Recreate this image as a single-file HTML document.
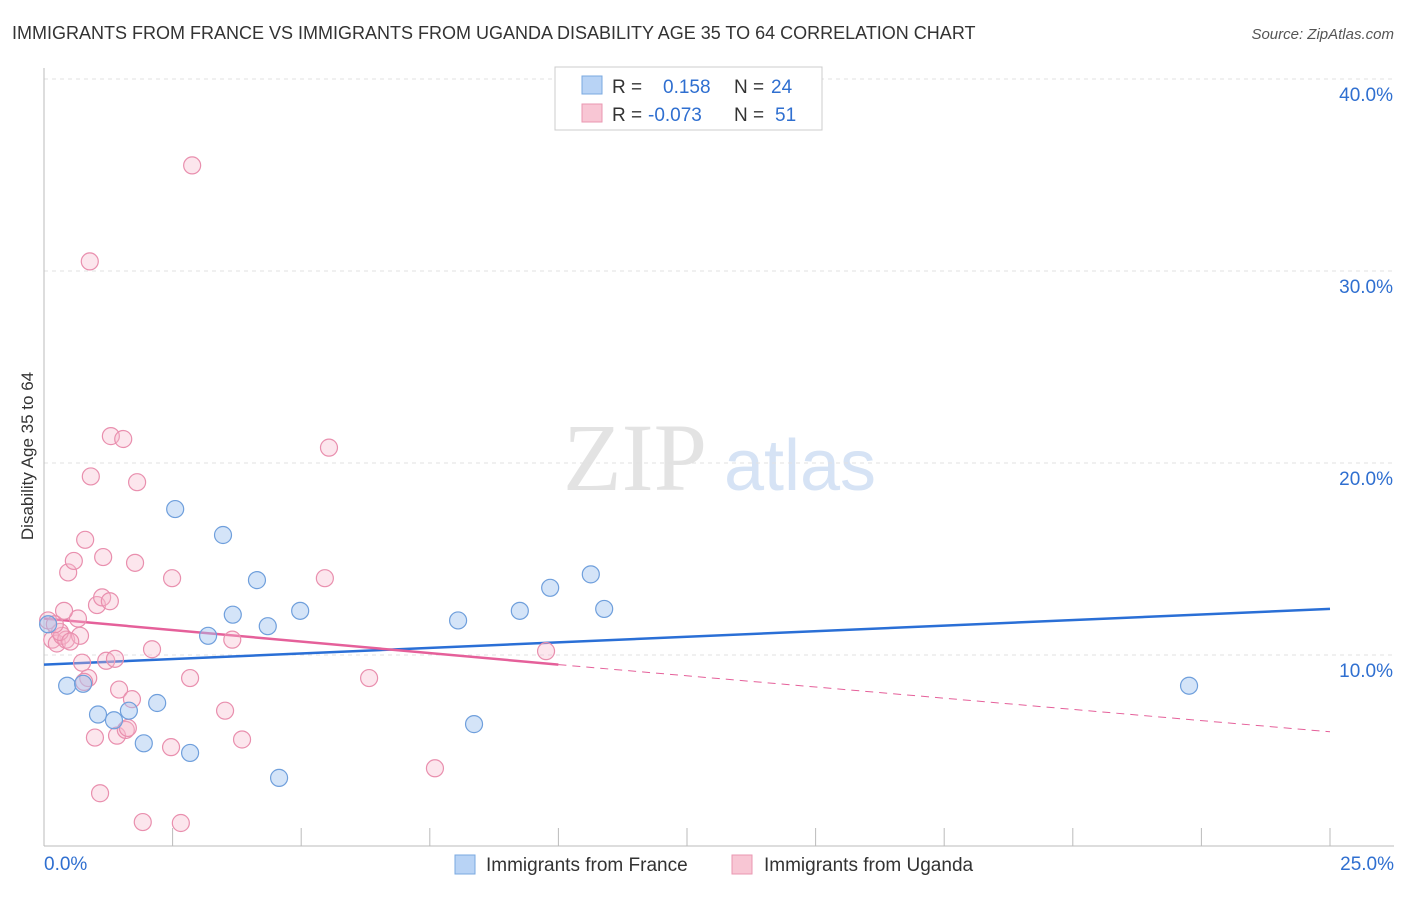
<!DOCTYPE html>
<html><head><meta charset="utf-8"><style>
body{margin:0;background:#fff;font-family:"Liberation Sans",sans-serif;}
</style></head><body>
<svg id="chart" width="1406" height="892" xmlns="http://www.w3.org/2000/svg" font-family="Liberation Sans, sans-serif">
<text x="12" y="39" font-size="18" fill="#333">IMMIGRANTS FROM FRANCE VS IMMIGRANTS FROM UGANDA DISABILITY AGE 35 TO 64 CORRELATION CHART</text>
<text x="1394" y="39" font-size="15" fill="#555" text-anchor="end" font-style="italic">Source: ZipAtlas.com</text>
<g>
<text x="635" y="490" font-size="96" fill="#e3e3e3" text-anchor="middle" font-family="Liberation Serif, serif">ZIP</text>
<text x="800" y="490" font-size="72" fill="#d6e3f5" text-anchor="middle">atlas</text>
</g>
<g id="grid"></g><g id="axes"></g><g id="trend"></g><g id="points"></g>
<text transform="translate(33,456) rotate(-90)" font-size="17" fill="#333" text-anchor="middle">Disability Age 35 to 64</text>
<g>
<rect x="555" y="67" width="267" height="63" fill="#fff" stroke="#ccc"/>
<rect x="582" y="76" width="20" height="18" fill="#b8d3f5" stroke="#7aa8e0"/>
<rect x="582" y="104" width="20" height="18" fill="#f8c6d4" stroke="#ea97b1"/>
<text x="612" y="93" font-size="19" fill="#333">R = </text><text x="663" y="93" font-size="19" fill="#2f6fd0">0.158</text>
<text x="734" y="93" font-size="19" fill="#333">N = </text><text x="771" y="93" font-size="19" fill="#2f6fd0">24</text>
<text x="612" y="121" font-size="19" fill="#333">R = </text><text x="648" y="121" font-size="19" fill="#2f6fd0">-0.073</text>
<text x="734" y="121" font-size="19" fill="#333">N = </text><text x="775" y="121" font-size="19" fill="#2f6fd0">51</text>
</g>
<g>
<rect x="455" y="855" width="20" height="19" fill="#b8d3f5" stroke="#7aa8e0"/>
<text x="486" y="871" font-size="19" fill="#333">Immigrants from France</text>
<rect x="732" y="855" width="20" height="19" fill="#f8c6d4" stroke="#ea97b1"/>
<text x="764" y="871" font-size="19" fill="#333">Immigrants from Uganda</text>
</g>
</svg>
<script>
const yTicks=[10,20,30,40];
const yTickLabels=["10.0%","20.0%","30.0%","40.0%"];
const xTicks=[0,2.5,5,7.5,10,12.5,15,17.5,20,22.5,25];
const franceX=[0.08,0.45,0.76,1.05,1.36,1.65,1.94,2.20,2.55,2.84,3.19,3.48,3.67,4.14,4.35,4.57,4.98,8.05,8.36,9.25,9.84,10.63,10.89,22.26];
const franceY=[11.6,8.4,8.5,6.9,6.6,7.1,5.4,7.5,17.6,4.9,11.0,16.25,12.1,13.9,11.5,3.6,12.3,11.8,6.4,12.3,13.5,14.2,12.4,8.4];
const ugandaX=[0.08,0.16,0.25,0.35,0.43,0.31,0.47,0.58,0.66,0.70,0.74,0.80,0.86,0.91,0.89,0.99,1.03,1.09,1.13,1.15,1.21,1.28,1.30,1.38,1.42,1.46,1.54,1.59,1.63,1.71,1.77,1.81,1.92,2.10,2.47,2.49,2.66,2.84,2.88,3.52,3.66,3.85,5.46,5.54,6.32,7.60,9.76,0.21,0.51,0.39,0.78];
const ugandaY=[11.8,10.8,10.6,11.0,10.8,11.2,14.3,14.9,11.9,11.0,9.6,16.0,8.8,19.3,30.5,5.7,12.6,2.8,13.0,15.1,9.7,12.8,21.4,9.8,5.8,8.2,21.25,6.1,6.2,7.7,14.8,19.0,1.3,10.3,5.2,14.0,1.25,8.8,35.5,7.1,10.8,5.6,14.0,20.8,8.8,4.1,10.2,11.6,10.7,12.3,8.6];
const franceTrend=[9.5,12.4];
const ugandaTrend=[11.9,9.5,6.0];
const ugandaSolidEnd=10;
const NS="http://www.w3.org/2000/svg";
const xs=v=>44+v/25*1286, ys=v=>847-v*19.2;
function mk(tag,attrs,parent){const e=document.createElementNS(NS,tag);for(const k in attrs)e.setAttribute(k,attrs[k]);parent.appendChild(e);return e;}
const grid=document.getElementById('grid'),axes=document.getElementById('axes');
yTicks.forEach((t,i)=>{
 const l=mk('line',{x1:44,x2:1394,y1:ys(t),y2:ys(t),stroke:'#e2e2e2','stroke-dasharray':'4,4'},grid);
 
 
 const tx=mk('text',{x:1393,y:ys(t)+22,'font-size':19,fill:'#2f6fd0','text-anchor':'end'},axes);
 tx.textContent=yTickLabels[i];
 
 
});
const xa=mk('line',{x1:44,x2:1394,y1:846,y2:846,stroke:'#bbb'},axes);


const ya=mk('line',{x1:44,x2:44,y1:68,y2:846,stroke:'#bbb'},axes);


xTicks.forEach(t=>{const l=mk('line',{x1:xs(t),x2:xs(t),y1:828,y2:846,stroke:'#bbb'},axes);
 
 });
[[0,'0.0%','start',44],[25,'25.0%','end',1394]].forEach(a=>{const t=mk('text',{x:a[3],y:870,'font-size':19,fill:'#2f6fd0','text-anchor':a[2]},axes);t.textContent=a[1];
 
 });
const pts=document.getElementById('points');
ugandaX.forEach((x,i)=>{const c=mk('circle',{cx:xs(x),cy:ys(ugandaY[i]),r:8.5,fill:'rgba(246,182,202,0.35)',stroke:'#e98fae','stroke-width':1.2},pts);
 
 });
franceX.forEach((x,i)=>{const c=mk('circle',{cx:xs(x),cy:ys(franceY[i]),r:8.5,fill:'rgba(160,196,240,0.45)',stroke:'#6f9fdc','stroke-width':1.2},pts);
 
 });
const tr=document.getElementById('trend');
const fl=mk('line',{x1:xs(0),y1:ys(franceTrend[0]),x2:xs(25),y2:ys(franceTrend[1]),stroke:'#2a6fd6','stroke-width':2.5},tr);


const ul=mk('line',{x1:xs(0),y1:ys(ugandaTrend[0]),x2:xs(ugandaSolidEnd),y2:ys(ugandaTrend[1]),stroke:'#e5609a','stroke-width':2.5},tr);


const ud=mk('line',{x1:xs(ugandaSolidEnd),y1:ys(ugandaTrend[1]),x2:xs(25),y2:ys(ugandaTrend[2]),stroke:'#e5609a','stroke-width':1,'stroke-dasharray':'8,6'},tr);


</script>
</body></html>
